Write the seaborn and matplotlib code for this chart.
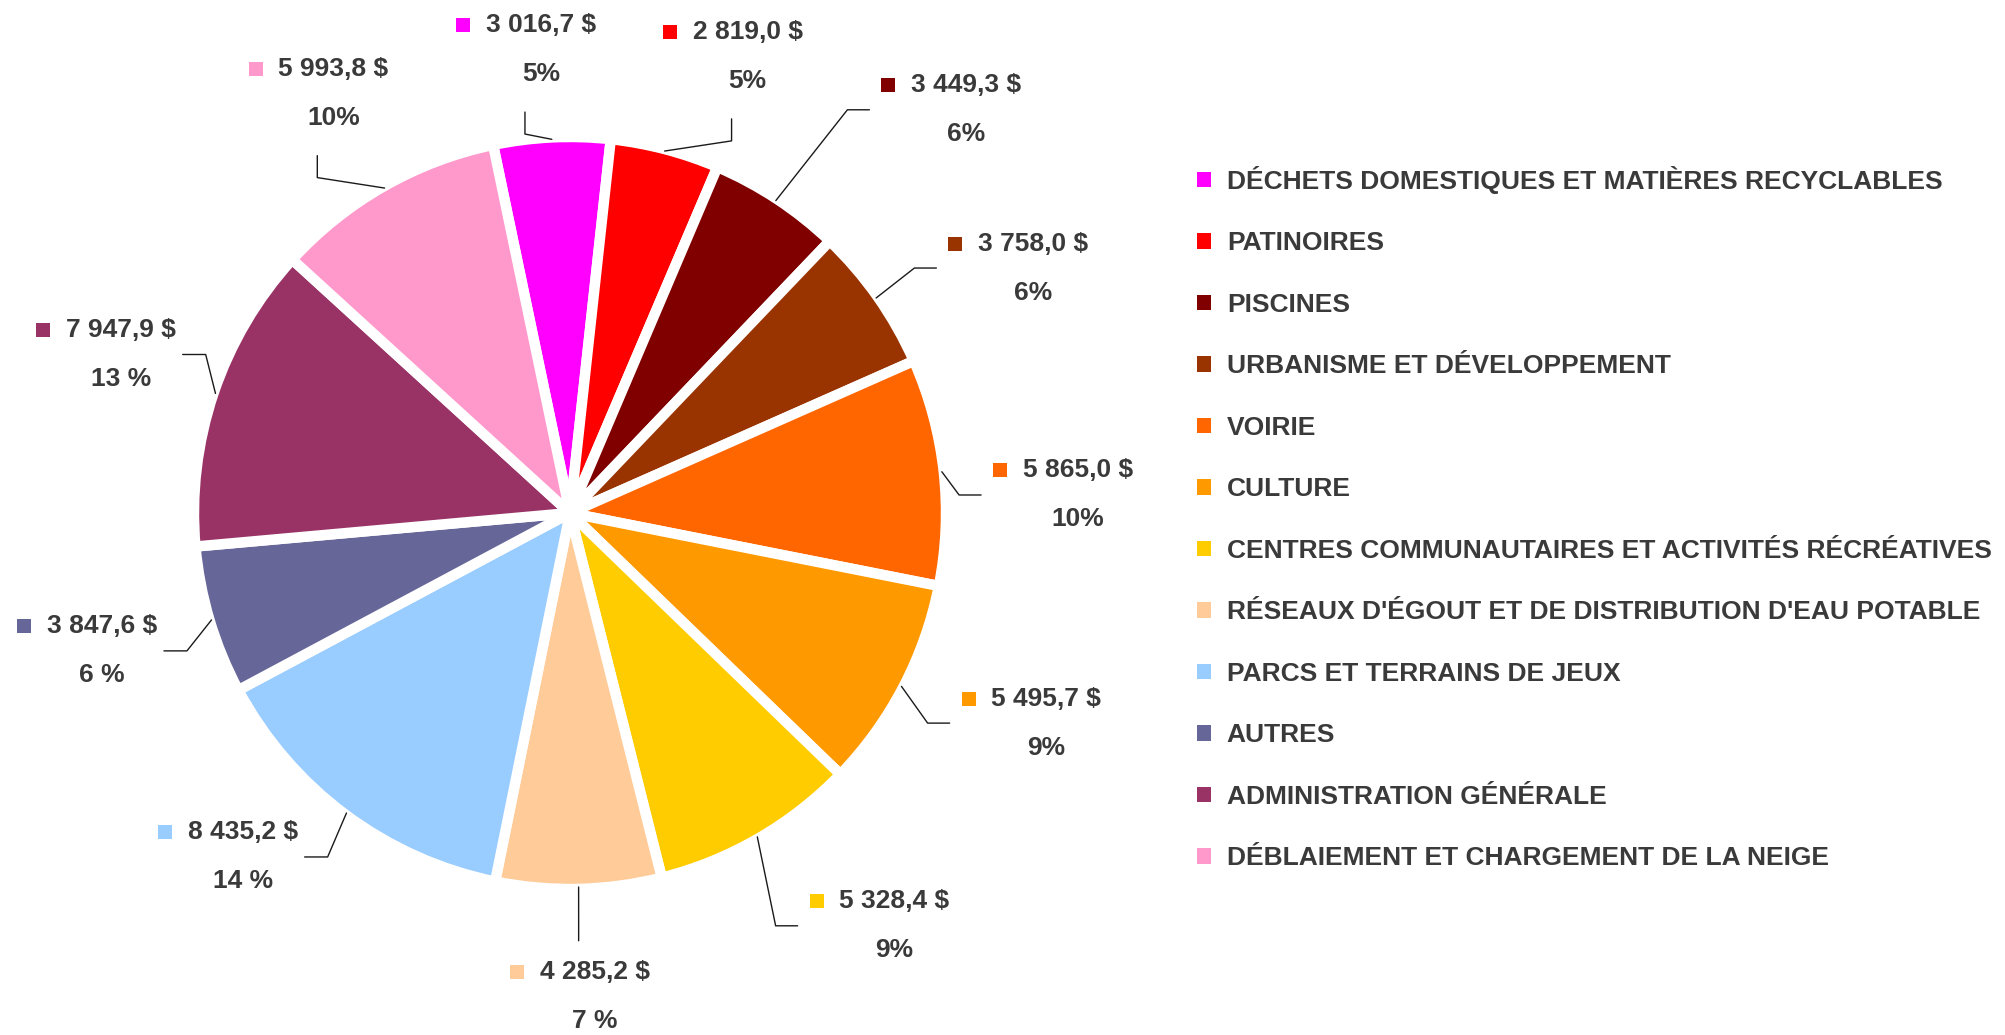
import matplotlib
matplotlib.use('Agg')
import matplotlib.pyplot as plt
from matplotlib.patches import Patch
import seaborn as sns
import numpy as np

categories = [
    "DÉCHETS DOMESTIQUES ET MATIÈRES RECYCLABLES",
    "PATINOIRES",
    "PISCINES",
    "URBANISME ET DÉVELOPPEMENT",
    "VOIRIE",
    "CULTURE",
    "CENTRES COMMUNAUTAIRES ET ACTIVITÉS RÉCRÉATIVES",
    "RÉSEAUX D'ÉGOUT ET DE DISTRIBUTION D'EAU POTABLE",
    "PARCS ET TERRAINS DE JEUX",
    "AUTRES",
    "ADMINISTRATION GÉNÉRALE",
    "DÉBLAIEMENT ET CHARGEMENT DE LA NEIGE",
]
values = [3016.7, 2819.0, 3449.3, 3758.0, 5865.0, 5495.7, 5328.4, 4285.2, 8435.2, 3847.6, 7947.9, 5993.8]
pct_labels = ["5%", "5%", "6%", "6%", "10%", "9%", "9%", "7 %", "14 %", "6 %", "13 %", "10%"]
colors = ["#FF00FF", "#FF0000", "#800000", "#993300", "#FF6600", "#FF9900",
          "#FFCC00", "#FFCC99", "#99CCFF", "#666699", "#993366", "#FF99CC"]

# where each data label sits: turn (deg) from the wedge middle, distance in radii,
# and the side of the label the leader line comes in from
label_turn = [0.8, -6.6, -11.1, -7.2, -4.3, 3.8, 8.1, 1.6, -6.9, -0.2, -0.8, -0.3]
label_dist = [1.235, 1.303, 1.503, 1.393, 1.351, 1.384, 1.396, 1.287, 1.263, 1.298, 1.267, 1.282]
leader_side = ['below', 'below', 'left', 'left', 'left', 'left', 'left', 'above',
               'right', 'right', 'right', 'below']

W, H, DPI = 2005, 1035, 100
R = 376.0            # pixels per pie radius
CX, CY = 570, 513    # pie centre in pixels (from top-left)
text_color = '#3a3a3a'
font_size = 19

sns.set_theme(style='white')
plt.rcParams['font.family'] = ['Liberation Sans', 'DejaVu Sans']
plt.rcParams['font.weight'] = 'bold'

fig = plt.figure(figsize=(W / DPI, H / DPI), dpi=DPI)
ax = fig.add_axes([0, 0, 1, 1])

wedges, _ = ax.pie(values, colors=colors, startangle=101.8, counterclock=False, radius=1.0,
                   wedgeprops={'edgecolor': 'white', 'linewidth': 7.5})

ax.set_xlim(-CX / R, (W - CX) / R)
ax.set_ylim(-(H - CY) / R, CY / R)
ax.set_aspect('auto')
ax.axis('off')

px = 1.0 / R  # one pixel in data units
dy = 24.5 * px

labels = []
for i, w in enumerate(wedges):
    mid = np.deg2rad((w.theta1 + w.theta2) / 2)
    ang = mid + np.deg2rad(label_turn[i])
    lx, ly = label_dist[i] * np.cos(ang), label_dist[i] * np.sin(ang)
    val = f"{values[i]:,.1f}".replace(",", " ").replace(".", ",") + " $"
    tv = ax.text(lx, ly + dy, val, ha='center', va='center', fontsize=font_size,
                 color=text_color, fontweight='bold')
    ax.text(lx, ly - dy, pct_labels[i], ha='center', va='center', fontsize=font_size,
            color=text_color, fontweight='bold')
    labels.append((mid, lx, ly, tv))

fig.canvas.draw()
renderer = fig.canvas.get_renderer()

for i, (mid, lx, ly, tv) in enumerate(labels):
    half = tv.get_window_extent(renderer).width / 2 * px
    sq_x = lx - half - 15.5 * px - 7 * px
    ax.scatter([sq_x], [ly + dy], marker='s', s=100, color=colors[i], linewidths=0, zorder=3)

    p = (0.995 * np.cos(mid), 0.995 * np.sin(mid))
    side = leader_side[i]
    if side == 'left':
        a = (sq_x - 7 * px - 12 * px, ly)
        e = (a[0] - 22 * px, ly)
    elif side == 'right':
        a = (lx + half + 7 * px, ly)
        e = (a[0] + 23 * px, ly)
    elif side == 'below':
        a = (lx - 16 * px, ly - dy - 38 * px)
        e = (a[0], a[1] - 22 * px)
    else:
        a = (lx - 16 * px, ly + dy + 31 * px)
        e = (a[0], a[1] + 22 * px)
    ax.plot([a[0], e[0], p[0]], [a[1], e[1], p[1]], color='#1a1a1a', linewidth=1.0, zorder=2)

handles = [Patch(facecolor=c, edgecolor='none') for c in colors]
leg = ax.legend(handles, categories, loc='upper left',
                bbox_to_anchor=(1197 / W, 1 - 166 / H), bbox_transform=fig.transFigure,
                frameon=False, fontsize=font_size, handlelength=0.53, handleheight=0.53,
                handletextpad=0.6, labelspacing=1.42, borderpad=0, borderaxespad=0,
                labelcolor=text_color)
for t in leg.get_texts():
    t.set_fontweight('bold')

fig.savefig('out.png', dpi=DPI)
